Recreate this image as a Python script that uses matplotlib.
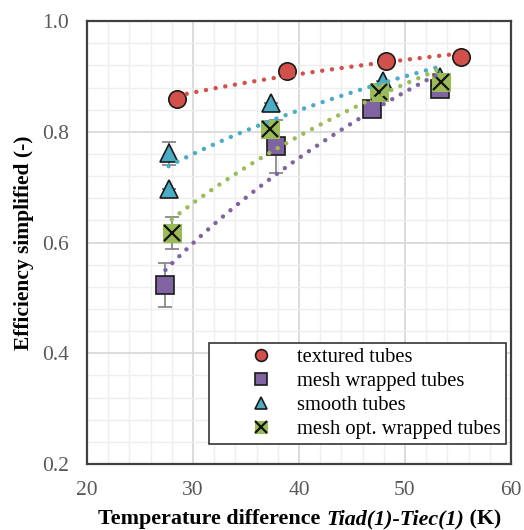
import numpy as np
import matplotlib
matplotlib.use("Agg")
import matplotlib.pyplot as plt
from matplotlib.ticker import MultipleLocator
from matplotlib.legend_handler import HandlerTuple

plt.rcParams['font.family'] = ['Liberation Serif', 'DejaVu Serif']

# data
tex_x = [28.5, 38.9, 48.2, 55.3]
tex_y = [0.860, 0.910, 0.928, 0.936]

mesh_x = [27.4, 37.8, 46.9, 53.3]
mesh_y = [0.523, 0.774, 0.842, 0.878]
mesh_err = [0.040, 0.048, 0.0, 0.0]

smooth_x = [27.7, 27.7, 37.4, 47.9, 53.3]
smooth_y = [0.761, 0.697, 0.853, 0.892, 0.900]
smooth_err = [0.020, 0.0, 0.0, 0.0, 0.0]

opt_x = [28.0, 37.3, 47.6, 53.4]
opt_y = [0.617, 0.806, 0.872, 0.890]
opt_err = [0.029, 0.0, 0.0, 0.0]

red = '#D2504A'
purple = '#8064A2'
cyan = '#4BACC6'
green = '#9BBB59'
errc = '#7f7f7f'

fig = plt.figure(figsize=(5.24, 5.30), dpi=100)
ax = fig.add_axes([0.166, 0.1245, 0.809, 0.8355])


def trend(x, y, color):
    # logarithmic trend line like the spreadsheet one
    a, b = np.polyfit(np.log(x), y, 1)
    xs = np.linspace(min(x), max(x), 80)
    ax.plot(xs, a * np.log(xs) + b, linestyle=(0, (0.01, 2.2)), color=color,
            lw=3.2, dash_capstyle='round', zorder=6)


ms = 12.5
h_tex, = ax.plot(tex_x, tex_y, 'o', ms=ms, mfc=red, mec='#1a1a1a', mew=1.2, zorder=3)
ax.errorbar(mesh_x, mesh_y, yerr=mesh_err, fmt='none', ecolor=errc, elinewidth=1.2,
            capsize=5, capthick=1.2, zorder=2)
h_mesh, = ax.plot(mesh_x, mesh_y, 's', ms=ms, mfc=purple, mec='#1a1a1a', mew=1.2, zorder=3)
ax.errorbar(smooth_x, smooth_y, yerr=smooth_err, fmt='none', ecolor=errc, elinewidth=1.2,
            capsize=5, capthick=1.2, zorder=2)
h_smooth, = ax.plot(smooth_x, smooth_y, '^', ms=ms, mfc=cyan, mec='#1a1a1a', mew=1.2, zorder=4)
ax.errorbar(opt_x, opt_y, yerr=opt_err, fmt='none', ecolor=errc, elinewidth=1.2,
            capsize=5, capthick=1.2, zorder=2)
h_opt1, = ax.plot(opt_x, opt_y, 's', ms=ms, mfc=green, mec=green, mew=0.8, zorder=5)
h_opt2, = ax.plot(opt_x, opt_y, 'x', ms=ms * 0.95, mec='#111111', mew=1.6, zorder=5)

trend(tex_x, tex_y, red)
trend(mesh_x, mesh_y, purple)
trend(smooth_x, smooth_y, cyan)
trend(opt_x, opt_y, green)

ax.set_xlim(20, 60)
ax.set_ylim(0.2, 1.0)
ax.xaxis.set_major_locator(MultipleLocator(10))
ax.xaxis.set_minor_locator(MultipleLocator(2))
ax.yaxis.set_major_locator(MultipleLocator(0.2))
ax.yaxis.set_minor_locator(MultipleLocator(0.04))
ax.yaxis.set_major_formatter(plt.FuncFormatter(lambda v, p: f"{v:.1f}"))
ax.grid(which='major', color='#d9d9d9', lw=1.3, zorder=0)
ax.grid(which='minor', color='#eeeeee', lw=1.0, zorder=0)
ax.set_axisbelow(True)
ax.tick_params(which='both', length=0, labelsize=15.5, labelcolor='#595959')
ax.tick_params(axis='y', pad=13)
ax.tick_params(axis='x', pad=12)
for s in ax.spines.values():
    s.set_color('#404040')
    s.set_linewidth(1.6)

ax.set_ylabel("Efficiency simplified (-)", fontsize=15.5, fontweight='bold')
ax.yaxis.set_label_coords(-0.125, 0.5)

# x label with bold-italic middle part
parts = [("Temperature difference ", 'normal'), ("Tiad(1)-Tiec(1)", 'italic'), (" (K)", 'normal')]
fig.canvas.draw()
r = fig.canvas.get_renderer()
texts = []
for s, st in parts:
    t = fig.text(0, 0.011, s, fontsize=15.8, fontweight='bold', style=st, va='baseline')
    texts.append(t)
widths = [t.get_window_extent(r).width for t in texts]
total = sum(widths)
cx = 300 / 524 * fig.bbox.width
x0 = cx - total / 2
for t, w in zip(texts, widths):
    t.set_x(x0 / fig.bbox.width)
    x0 += w

leg = ax.legend([h_tex, h_mesh, h_smooth, (h_opt1, h_opt2)],
                ["textured tubes", "mesh wrapped tubes", "smooth tubes", "mesh opt. wrapped tubes"],
                handler_map={tuple: HandlerTuple(ndivide=1)},
                loc='lower right', bbox_to_anchor=(0.988, 0.045), fontsize=14.8,
                markerscale=0.68, frameon=True, fancybox=False, edgecolor='#333333',
                framealpha=1, borderpad=0.25, labelspacing=0.22, handletextpad=-0.55,
                handlelength=4.6, borderaxespad=0)
leg.get_frame().set_linewidth(1.2)
leg.set_zorder(10)

fig.savefig("out.png", dpi=100)
